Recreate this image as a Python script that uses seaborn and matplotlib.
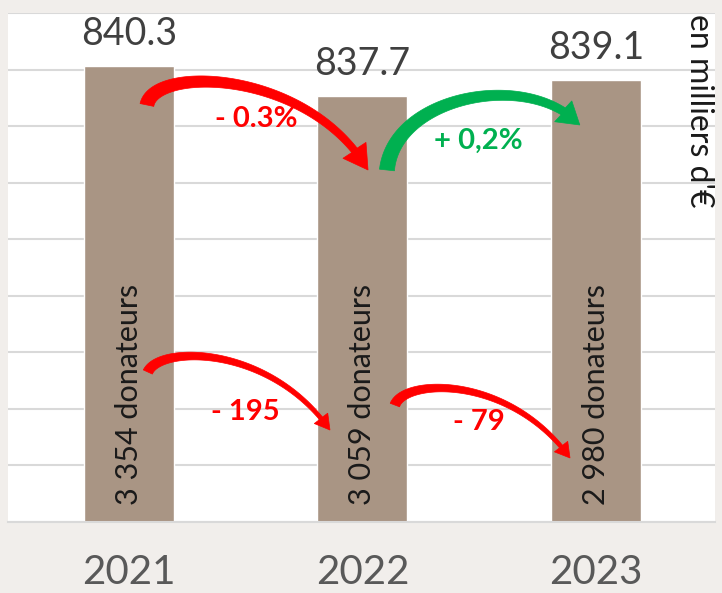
import numpy as np
import pandas as pd
import matplotlib
matplotlib.use("Agg")
import matplotlib.pyplot as plt
from matplotlib.patches import Polygon
from matplotlib.transforms import IdentityTransform
import seaborn as sns

# ---- data ----
years = ["2021", "2022", "2023"]
montants = [840.3, 837.7, 839.1]          # en milliers d'€
donateurs = ["3 354 donateurs", "3 059 donateurs", "2 980 donateurs"]
var_montants = ["- 0.3%", "+ 0,2%"]
var_donateurs = ["- 195", "- 79"]

RED = "#ff0000"
GREEN = "#00b050"
BAR = "#a99584"
BG = "#f1eeeb"

sns.set_theme(style="white")
plt.rcParams["font.family"] = ["Lato", "DejaVu Sans"]

df = pd.DataFrame({"annee": years, "montant": montants})

fig = plt.figure(figsize=(7.22, 5.93), dpi=100, facecolor=BG)
ax = fig.add_axes([8 / 722, 71 / 593, 707 / 722, 509 / 593])
ax.set_facecolor("white")

sns.barplot(data=df, x="annee", y="montant", color=BAR, saturation=1,
            width=0.385, ax=ax, zorder=2)

ax.set_ylim(800, 845)
ax.set_xlim(-0.518, 2.51)
ax.set_yticks(np.arange(800, 846, 5))
ax.set_yticklabels([])
ax.yaxis.grid(True, color="#d9d9d9", lw=1.5, zorder=0)
ax.set_axisbelow(True)
for s in ["left", "right", "top"]:
    ax.spines[s].set_visible(False)
ax.spines["bottom"].set_color("#d9d9d9")
ax.spines["bottom"].set_linewidth(1.5)
ax.set_xlabel("")
ax.set_ylabel("")
ax.tick_params(axis="x", length=0, pad=23, labelsize=29, labelcolor="#595959")
ax.tick_params(axis="y", length=0)

# value labels on top of bars
ax.bar_label(ax.containers[0], labels=[f"{v:.1f}" for v in montants],
             padding=10, fontsize=27, color="#404040")

# donor counts inside bars
for i, txt in enumerate(donateurs):
    ax.text(i, 801.5, txt, rotation=90, ha="center", va="bottom",
            fontsize=22, color="#1a1a1a", zorder=3)

# unit label
fig.text(699 / 722, 1 - 14 / 593, "en milliers d'€", rotation=-90,
         ha="center", va="top", fontsize=23, color="#1a1a1a")

# variation labels
ax.text(0.544, 835.6, var_montants[0], ha="center", va="center",
        fontsize=21, fontweight="bold", color=RED, zorder=4)
ax.text(1.496, 833.7, var_montants[1], ha="center", va="center",
        fontsize=21, fontweight="bold", color=GREEN, zorder=4)
ax.text(0.497, 809.7, var_donateurs[0], ha="center", va="center",
        fontsize=21, fontweight="bold", color=RED, zorder=4)
ax.text(1.499, 808.8, var_donateurs[1], ha="center", va="center",
        fontsize=21, fontweight="bold", color=RED, zorder=4)


def curved_arrow(ax, pts, color, w0, w1, hw, hl):
    P = ax.transData.transform(np.array(pts, dtype=float))
    t = np.linspace(0, 1, 500)[:, None]
    B = ((1 - t) ** 3) * P[0] + 3 * ((1 - t) ** 2) * t * P[1] \
        + 3 * (1 - t) * t ** 2 * P[2] + t ** 3 * P[3]
    d = np.diff(B, axis=0)
    seglen = np.hypot(d[:, 0], d[:, 1])
    s = np.concatenate([[0], np.cumsum(seglen)])
    L = s[-1]
    ib = np.searchsorted(s, L - hl)
    shaft = B[:ib + 1]
    tang = np.gradient(shaft, axis=0)
    tang /= np.hypot(tang[:, 0], tang[:, 1])[:, None]
    nrm = np.stack([-tang[:, 1], tang[:, 0]], axis=1)
    w = np.linspace(w0, w1, len(shaft))[:, None]
    left = shaft + nrm * w / 2
    right = shaft - nrm * w / 2
    tip = B[-1]
    hdir = tip - shaft[-1]
    hdir /= np.hypot(*hdir)
    hn = np.array([-hdir[1], hdir[0]])
    hl_pt = shaft[-1] + hn * hw / 2
    hr_pt = shaft[-1] - hn * hw / 2
    poly = np.vstack([left, [hl_pt, tip, hr_pt], right[::-1]])
    ax.add_patch(Polygon(poly, closed=True, facecolor=color, edgecolor=color,
                         lw=0.5, transform=IdentityTransform(), zorder=5))


curved_arrow(ax, [(0.077, 836.87), (0.111, 840.41), (0.775, 839.96), (1.024, 831.12)],
             RED, 14, 7, 28, 24)
curved_arrow(ax, [(1.105, 831.12), (1.139, 837.75), (1.717, 839.96), (1.931, 835.10)],
             GREEN, 15, 8, 27, 22)
curved_arrow(ax, [(0.081, 813.26), (0.133, 815.65), (0.604, 815.65), (0.861, 808.13)],
             RED, 10, 4, 17, 15)
curved_arrow(ax, [(1.139, 810.34), (1.182, 812.73), (1.632, 813.0), (1.889, 805.66)],
             RED, 10, 4, 17, 15)

fig.savefig("out.png", dpi=100, facecolor=BG)
